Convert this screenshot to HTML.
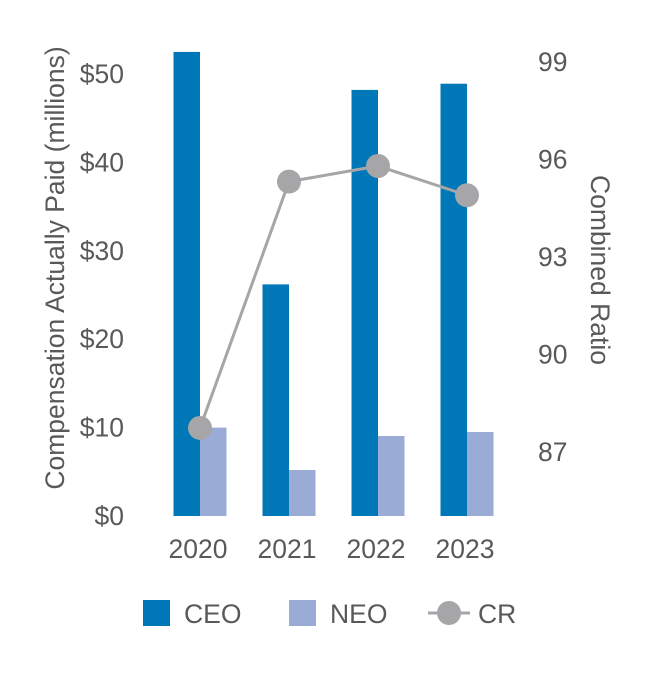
<!DOCTYPE html>
<html><head><meta charset="utf-8"><style>
body{margin:0;background:#fff}
svg text{font-family:"Liberation Sans",sans-serif;fill:#595959}
</style></head><body>
<svg width="652" height="672" viewBox="0 0 652 672">
<g id="g"></g>
</svg>
<script>
const categories=["2020","2021","2022","2023"];
const ceoValues=[52.5,26.2,48.2,48.9];
const neoValues=[10.0,5.2,9.05,9.5];
const crValues=[87.74,95.32,95.8,94.9];
const leftTicks=[0,10,20,30,40,50];
const leftLabels=["$0","$10","$20","$30","$40","$50"];
const rightTicks=[87,90,93,96,99];

const NS="http://www.w3.org/2000/svg";
const g=document.getElementById('g');
const FS=26.5;
function el(t,a,txt){const e=document.createElementNS(NS,t);for(const k in a)e.setAttribute(k,a[k]);if(txt!=null)e.textContent=txt;g.appendChild(e);return e;}
const yL=v=>516-v*8.84;
const yR=v=>452-(v-87)*32.5;
const xC=i=>200+i*89;

leftTicks.forEach((t,i)=>{const e=el('text',{x:124,y:yL(t)+9,'text-anchor':'end','font-size':FS},leftLabels[i]);

});
rightTicks.forEach(t=>{const e=el('text',{x:538,y:yR(t)+9,'font-size':FS},String(t));

});

categories.forEach((c,i)=>{
 const b1=el('rect',{x:xC(i)-26.5,y:yL(ceoValues[i]),width:26.5,height:516-yL(ceoValues[i]),fill:'#0077b6'});
 
 
 const b2=el('rect',{x:xC(i),y:yL(neoValues[i]),width:26.5,height:516-yL(neoValues[i]),fill:'#9aabd6'});
 
 
 const t=el('text',{x:xC(i)-2,y:558,'text-anchor':'middle','font-size':FS},c);
 
 
});
const line=el('polyline',{points:crValues.map((v,i)=>xC(i)+','+yR(v)).join(' '),fill:'none',stroke:'#a6a6a8','stroke-width':3});


crValues.forEach((v,i)=>{const c=el('circle',{cx:xC(i),cy:yR(v),r:12,fill:'#a6a6a8'});

});

const lt=el('text',{x:0,y:0,'font-size':FS,'text-anchor':'middle',transform:'translate(64,268) rotate(-90)'},'Compensation Actually Paid (millions)');


const rt=el('text',{x:0,y:0,'font-size':FS,'text-anchor':'middle',transform:'translate(591,270) rotate(90)'},'Combined Ratio');



const l1=el('rect',{x:143,y:600,width:27,height:26,fill:'#0077b6'});


const l1t=el('text',{x:184,y:623,'font-size':FS},'CEO');


const l2=el('rect',{x:289,y:600,width:27,height:26,fill:'#9aabd6'});


const l2t=el('text',{x:330,y:623,'font-size':FS},'NEO');


const l3=el('line',{x1:428,y1:613,x2:470,y2:613,stroke:'#a6a6a8','stroke-width':3});


const l3c=el('circle',{cx:449,cy:613,r:12,fill:'#a6a6a8'});


const l3t=el('text',{x:478,y:623,'font-size':FS},'CR');


</script>
</body></html>
